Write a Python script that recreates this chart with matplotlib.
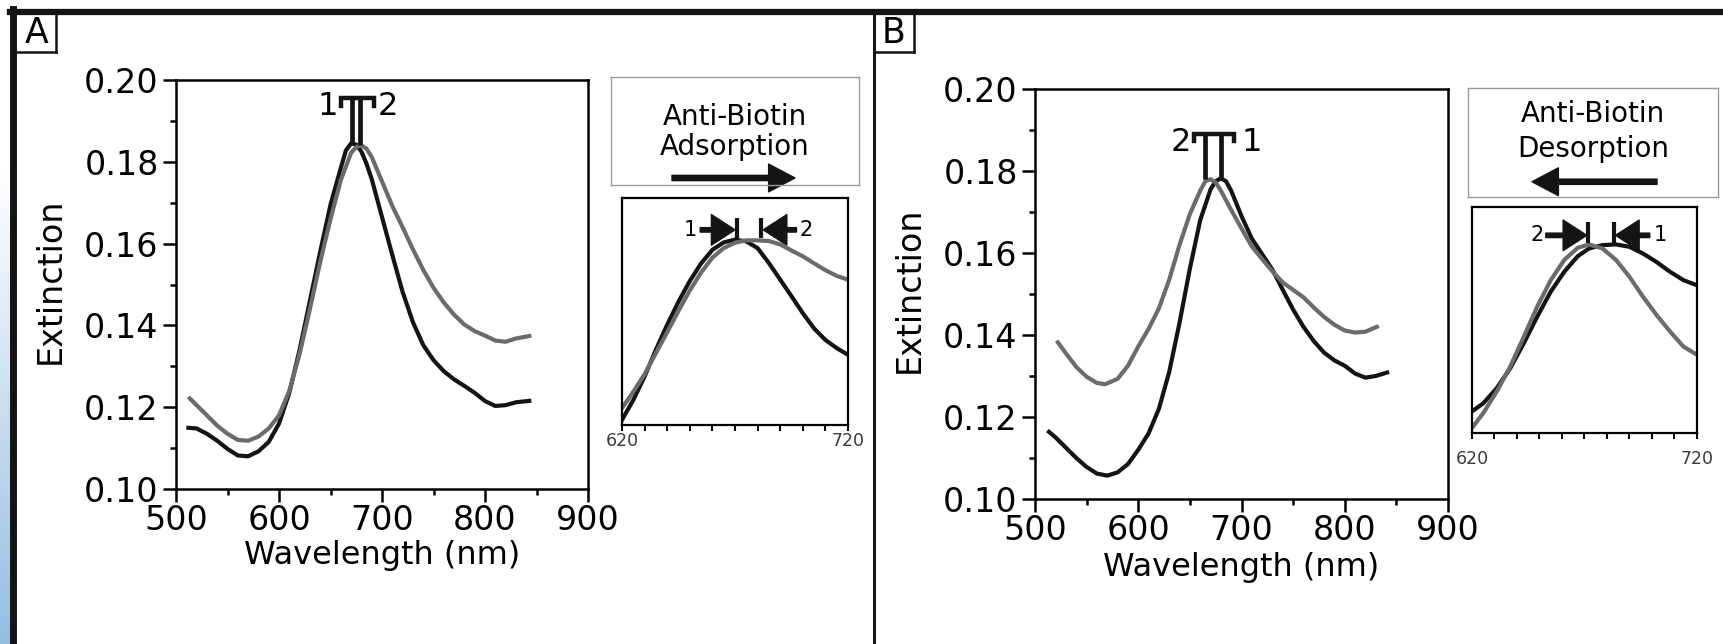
import matplotlib
matplotlib.use('Agg')
import matplotlib.pyplot as plt
import numpy as np
from matplotlib.lines import Line2D
from matplotlib.patches import FancyArrowPatch

plt.rcParams['font.family'] = ['DejaVu Sans']

W, H = 1724, 644
BLACK = '#141414'
GRAY = '#6b6b6b'

# ---- panel A: adsorption spectra (1 = before, 2 = after)
wl_a1 = [510, 520, 530, 540, 550, 560, 570, 580, 590, 600, 610, 620, 630, 640, 650, 660, 665, 670,
         675, 680, 685, 690, 700, 710, 720, 730, 740, 750, 760, 770, 780, 790, 800, 810, 820, 830, 845]
ext_a1 = [0.1150, 0.1148, 0.1135, 0.1118, 0.1098, 0.1082, 0.1080, 0.1092, 0.1115, 0.1160, 0.1235,
          0.1340, 0.1460, 0.1580, 0.1695, 0.1785, 0.1828, 0.1845, 0.1842, 0.1825, 0.1795, 0.1758,
          0.1665, 0.1572, 0.1482, 0.1408, 0.1352, 0.1315, 0.1288, 0.1268, 0.1252, 0.1235, 0.1215,
          0.1203, 0.1205, 0.1212, 0.1216]
wl_a2 = [512, 520, 530, 540, 550, 560, 570, 580, 590, 600, 610, 620, 630, 640, 650, 660, 670, 675,
         680, 685, 690, 700, 710, 720, 730, 740, 750, 760, 770, 780, 790, 800, 810, 820, 830, 845]
ext_a2 = [0.1225, 0.1205, 0.1180, 0.1155, 0.1135, 0.1120, 0.1118, 0.1128, 0.1148, 0.1180, 0.1240,
          0.1330, 0.1440, 0.1555, 0.1660, 0.1755, 0.1822, 0.1836, 0.1840, 0.1832, 0.1812, 0.1752,
          0.1692, 0.1640, 0.1586, 0.1536, 0.1492, 0.1456, 0.1426, 0.1402, 0.1386, 0.1375, 0.1363,
          0.1360, 0.1368, 0.1375]

# ---- panel B: desorption spectra
wl_b1 = [512, 520, 530, 540, 550, 560, 570, 580, 590, 600, 610, 620, 630, 640, 650, 660, 670, 675,
         680, 685, 690, 700, 710, 720, 730, 740, 750, 760, 770, 780, 790, 800, 810, 820, 830, 843]
ext_b1 = [0.1167, 0.1150, 0.1125, 0.1100, 0.1078, 0.1062, 0.1057, 0.1065, 0.1085, 0.1120, 0.1160,
          0.1220, 0.1310, 0.1430, 0.1562, 0.1680, 0.1755, 0.1775, 0.1782, 0.1775, 0.1752, 0.1690,
          0.1635, 0.1597, 0.1559, 0.1510, 0.1462, 0.1420, 0.1385, 0.1357, 0.1338, 0.1325, 0.1306,
          0.1296, 0.1300, 0.1310]
wl_b2 = [521, 530, 540, 550, 560, 568, 580, 590, 600, 610, 620, 630, 640, 650, 660, 665, 670, 675,
         680, 690, 700, 710, 720, 730, 740, 750, 760, 770, 780, 790, 800, 810, 820, 833]
ext_b2 = [0.1386, 0.1355, 0.1322, 0.1298, 0.1283, 0.1280, 0.1293, 0.1325, 0.1372, 0.1415, 0.1465,
          0.1535, 0.1620, 0.1695, 0.1752, 0.1775, 0.1780, 0.1772, 0.1752, 0.1705, 0.1660, 0.1616,
          0.1585, 0.1555, 0.1528, 0.1510, 0.1492, 0.1467, 0.1444, 0.1425, 0.1411, 0.1406, 0.1408, 0.1422]

# ---- insets (zoom on the peak, 620-720 nm)
wl_ia = [620, 625, 630, 635, 640, 645, 650, 655, 660, 665, 670, 675, 680, 685, 690, 695, 700,
         705, 710, 715, 720]
ext_ia1 = [0.1315, 0.1374, 0.1443, 0.1522, 0.1596, 0.1664, 0.1725, 0.1777, 0.1817, 0.1839, 0.1847,
           0.1842, 0.1822, 0.1778, 0.1729, 0.1680, 0.1630, 0.1585, 0.1551, 0.1527, 0.1507]
ext_ia2 = [0.1350, 0.1398, 0.1450, 0.1512, 0.1574, 0.1637, 0.1697, 0.1750, 0.1794, 0.1822, 0.1838,
           0.1845, 0.1845, 0.1843, 0.1833, 0.1815, 0.1798, 0.1777, 0.1757, 0.1740, 0.1729]
wl_ib = [620, 625, 631, 637, 643, 649, 655, 661, 667, 672, 678, 684, 690, 696, 702, 708, 714, 720]
ext_ib1 = [0.1364, 0.1388, 0.1433, 0.1492, 0.1566, 0.1645, 0.1719, 0.1778, 0.1824, 0.1847, 0.1857,
           0.1859, 0.1852, 0.1832, 0.1807, 0.1778, 0.1753, 0.1738]
ext_ib2 = [0.1315, 0.1359, 0.1423, 0.1497, 0.1585, 0.1675, 0.1753, 0.1813, 0.1849, 0.1859, 0.1847,
           0.1813, 0.1763, 0.1704, 0.1650, 0.1601, 0.1556, 0.1532]

x_ticks = [500, 600, 700, 800, 900]
y_ticks = [0.10, 0.12, 0.14, 0.16, 0.18, 0.20]
inset_ticks = [620, 720]

# peak positions (nm) used for the markers
peaks_a = [671, 679]
peaks_b = [665, 680]
peaks_ia = [670.7, 681.5]
peaks_ib = [683, 671.7]


def rect(x0, y0, x1, y1):
    return [x0 / W, 1 - y1 / H, (x1 - x0) / W, (y1 - y0) / H]


def arrow(ax, tail, tip, hl, hw, tw, transform=None):
    p = FancyArrowPatch(tail, tip, transform=transform or ax.transData,
                        arrowstyle=f'simple,head_length={hl},head_width={hw},tail_width={tw}',
                        mutation_scale=1, color=BLACK, shrinkA=0, shrinkB=0, clip_on=False)
    ax.add_patch(p)


fig = plt.figure(figsize=(W / 100, H / 100), dpi=100)
fig.patch.set_facecolor('white')

# light blue strip on the left edge
ax_bg = fig.add_axes([0, 0, 10 / W, 1])
t = np.clip((np.arange(H) - 170) / (H - 170), 0, 1)[:, None]
c0 = np.array([1.0, 1.0, 1.0])
c1 = np.array([0.58, 0.74, 0.89])
grad = (c0 * (1 - t) + c1 * t).reshape(H, 1, 3)
ax_bg.imshow(grad, aspect='auto')
ax_bg.axis('off')

# frame
fig.add_artist(Line2D([10 / W, 1], [1 - 12 / H] * 2, color=BLACK, lw=4.5, transform=fig.transFigure))
fig.add_artist(Line2D([13.5 / W] * 2, [0, 1 - 9 / H], color=BLACK, lw=5, transform=fig.transFigure))
fig.add_artist(Line2D([874 / W] * 2, [0, 1 - 12 / H], color=BLACK, lw=2.2, transform=fig.transFigure))
for x0, x1, letter in [(17, 56, 'A'), (874, 914, 'B')]:
    fig.add_artist(Line2D([x1 / W] * 2, [1 - 13 / H, 1 - 52 / H], color=BLACK, lw=1.8,
                          transform=fig.transFigure))
    fig.add_artist(Line2D([x0 / W, x1 / W], [1 - 52 / H] * 2, color=BLACK, lw=1.8,
                          transform=fig.transFigure))
    fig.text((x0 + x1) / 2 / W, 1 - 33 / H, letter, fontsize=25, ha='center', va='center')


def main_panel(pos, w1, e1, w2, e2, label_pos):
    ax = fig.add_axes(pos)
    ax.plot(w1, e1, color=BLACK, lw=3.0, solid_joinstyle='round', solid_capstyle='butt')
    ax.plot(w2, e2, color=GRAY, lw=3.0, solid_joinstyle='round', solid_capstyle='butt')
    ax.set_xlim(500, 900)
    ax.set_ylim(0.10, 0.20)
    ax.set_xticks(x_ticks)
    ax.set_xticks([550, 650, 750, 850], minor=True)
    ax.set_yticks(y_ticks)
    ax.set_yticks([0.11, 0.13, 0.15, 0.17, 0.19], minor=True)
    ax.set_yticklabels([f'{v:.2f}' for v in y_ticks])
    ax.tick_params(which='both', direction='out', top=False, right=False, width=1.8, labelsize=24)
    ax.tick_params(which='major', length=9.5)
    ax.tick_params(which='minor', length=4)
    ax.tick_params(axis='x', pad=1.5)
    ax.tick_params(axis='y', pad=3)
    for s in ax.spines.values():
        s.set_linewidth(1.8)
    ax.set_xlabel('Wavelength (nm)', fontsize=23)
    ax.set_ylabel('Extinction', fontsize=24)
    ax.xaxis.set_label_coords(0.5, label_pos[0])
    ax.yaxis.set_label_coords(label_pos[1], label_pos[2])
    return ax


def bracket(ax, xs, y_peaks, y_top, labels, lab_x, lab_y):
    for x, yp in zip(xs, y_peaks):
        ax.plot([x, x], [yp, y_top], color=BLACK, lw=3.4, solid_capstyle='butt')
    x0, x1 = min(xs) - 11, max(xs) + 13
    ax.plot([x0, x0, x1, x1], [y_top - 0.0018, y_top, y_top, y_top - 0.0018], color=BLACK, lw=3.2,
            solid_joinstyle='miter')
    for t_, x in zip(labels, lab_x):
        ax.text(x, lab_y, t_, fontsize=23, ha='center', va='center')


ax_a = main_panel(rect(176, 80, 588, 489), wl_a1, ext_a1, wl_a2, ext_a2, (-0.125, -0.265, 0.51))
bracket(ax_a, peaks_a, [0.1845, 0.1840], 0.1955, ['1', '2'], [647, 706], 0.1935)

ax_b = main_panel(rect(1035, 89, 1448, 499), wl_b1, ext_b1, wl_b2, ext_b2, (-0.129, -0.264, 0.51))
bracket(ax_b, peaks_b, [0.1780, 0.1782], 0.1890, ['2', '1'], [641, 710], 0.1870)


def text_box(pos, word, y_lines, arrow_pts):
    ax = fig.add_axes(pos)
    ax.set_xticks([])
    ax.set_yticks([])
    for s in ax.spines.values():
        s.set_color('#9a9a9a')
        s.set_linewidth(1.0)
    ax.text(0.5, y_lines[0], 'Anti-Biotin', fontsize=20, ha='center', va='baseline', transform=ax.transAxes)
    ax.text(0.5, y_lines[1], word, fontsize=20, ha='center', va='baseline', transform=ax.transAxes)
    arrow(ax, arrow_pts[0], arrow_pts[1], 19, 20, 3.8, transform=ax.transAxes)


text_box(rect(611, 77, 859, 185), 'Adsorption', (0.556, 0.278), ((0.246, 0.065), (0.742, 0.065)))
text_box(rect(1468, 88, 1718, 197), 'Desorption', (0.691, 0.370), ((0.756, 0.14), (0.256, 0.14)))


def inset(pos, w, e1, e2, pad, ticks_x, tick_lo, tick_hi, arr_y, arrows, labels):
    ax = fig.add_axes(pos)
    ax.plot(w, e1, color=BLACK, lw=3.0, solid_joinstyle='round')
    ax.plot(w, e2, color=GRAY, lw=3.0, solid_joinstyle='round')
    ax.set_xlim(620, 720)
    ax.set_ylim(0.13, 0.197)
    ax.set_yticks([])
    ax.set_xticks(inset_ticks)
    ax.set_xticks(np.arange(630, 720, 10), minor=True)
    ax.tick_params(which='both', direction='out', length=4.5, width=1.5, top=False,
                   labelsize=12.5, labelcolor='#3a3a3a', pad=pad)
    for s in ax.spines.values():
        s.set_linewidth(1.6)
    for x in ticks_x:
        ax.plot([x, x], [tick_lo, tick_hi], color=BLACK, lw=3.0, solid_capstyle='butt')
    for tail, tip in arrows:
        arrow(ax, (tail, arr_y), (tip, arr_y), 17, 22, 3.2)
    for t_, x in labels:
        ax.text(x, arr_y, t_, fontsize=15, ha='center', va='center')
    return ax


inset(rect(622, 198, 848, 425), wl_ia, ext_ia1, ext_ia2, 0.5, peaks_ia, 0.1852, 0.1911, 0.1876,
      [(654.6, 670.0), (697.2, 682.5)], [('1', 650.1), ('2', 701.6)])
inset(rect(1472, 207, 1697, 433), wl_ib, ext_ib1, ext_ib2, 8, peaks_ib, 0.1862, 0.1926, 0.1886,
      [(652.8, 671.0), (699.0, 683.8)], [('2', 648.8), ('1', 703.5)])

fig.savefig('out.png', dpi=100)
